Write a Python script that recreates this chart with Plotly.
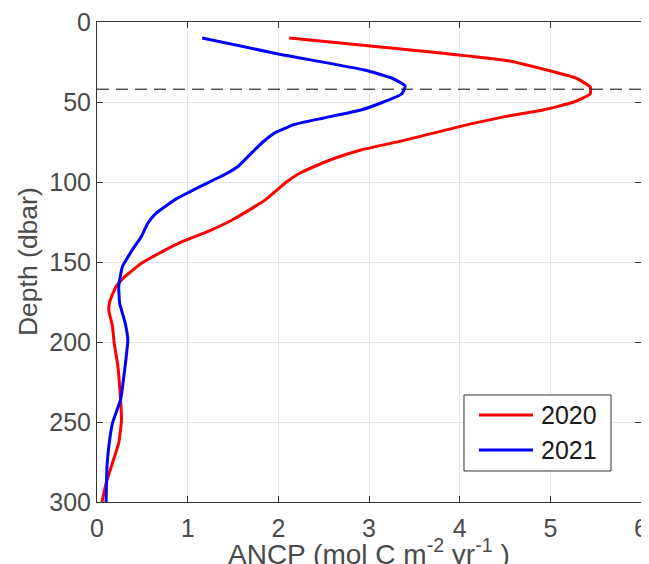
import plotly.graph_objects as go

depth_2020 = [10, 24, 30, 35, 40.6, 45, 50, 55, 59, 64, 74.6, 80, 85, 90, 95, 100, 111,
              115.4, 123.75, 131, 137, 143.5, 150.8, 159, 165.4, 173.75, 180, 190, 200.8,
              215, 236, 248.75, 263, 275.8, 288.3, 300]
ancp_2020 = [2.12, 4.51, 4.96, 5.28, 5.44, 5.44, 5.26, 4.92, 4.51, 4.10, 3.34, 2.91, 2.63,
             2.41, 2.22, 2.09, 1.86, 1.74, 1.49, 1.22, 0.95, 0.72, 0.49, 0.31, 0.21, 0.146,
             0.13, 0.17, 0.19, 0.23, 0.26, 0.27, 0.24, 0.17, 0.10, 0.055]

depth_2021 = [10, 20, 30, 35, 40, 45, 50, 55, 60, 64, 69, 75, 81, 90, 95, 103, 111,
              119.6, 125.8, 134, 141.5, 153, 165, 175.8, 188, 198.75, 215, 236, 250.8,
              265.4, 278, 300]
ancp_2021 = [1.16, 2.0, 2.95, 3.25, 3.40, 3.36, 3.16, 2.91, 2.50, 2.18, 1.97, 1.83, 1.72,
             1.56, 1.42, 1.13, 0.86, 0.65, 0.56, 0.49, 0.40, 0.28, 0.24, 0.25, 0.31, 0.34,
             0.31, 0.26, 0.17, 0.13, 0.11, 0.10]

mld_depth = 42

x_ticks = [0, 1, 2, 3, 4, 5, 6]
y_ticks = [0, 50, 100, 150, 200, 250, 300]

series_names = ["2020", "2021"]
series_colors = ["#ff0000", "#0000ff"]

fig = go.Figure()
fig.add_trace(go.Scatter(x=ancp_2020, y=depth_2020, mode="lines", name=series_names[0],
                         showlegend=False,
                         line=dict(color=series_colors[0], width=3, shape="spline", smoothing=0.4)))
fig.add_trace(go.Scatter(x=ancp_2021, y=depth_2021, mode="lines", name=series_names[1],
                         showlegend=False,
                         line=dict(color=series_colors[1], width=3, shape="spline", smoothing=0.4)))

fig.add_shape(type="line", xref="paper", x0=0, x1=1, yref="y", y0=mld_depth, y1=mld_depth,
              line=dict(color="black", width=1, dash="12px,7px"))

# custom legend (box, line samples, labels)
fig.add_shape(type="rect", xref="paper", yref="paper", x0=0.6746, x1=0.9449,
              y0=0.0646, y1=0.2229, line=dict(color="#333333", width=1), fillcolor="white",
              layer="above")
leg_y = [0.18125, 0.1083]
for name, col, yy in zip(series_names, series_colors, leg_y):
    fig.add_shape(type="line", xref="paper", yref="paper", x0=0.7022, x1=0.8015,
                  y0=yy, y1=yy, line=dict(color=col, width=3), layer="above")
    fig.add_annotation(xref="paper", yref="paper", x=0.8125, y=yy, text=name,
                       showarrow=False, xanchor="left", yanchor="middle",
                       font=dict(size=25, color="#1a1a1a"))

axis_common = dict(showgrid=True, gridcolor="#e6e6e6", gridwidth=1, showline=True,
                   linecolor="#333333", linewidth=1, mirror="ticks", ticks="inside",
                   ticklen=6, tickcolor="#333333", zeroline=False, automargin=False,
                   ticklabeloverflow="allow",
                   tickfont=dict(size=25, color="#4a4a4a"))

fig.add_annotation(xref="paper", yref="paper", x=0.5, y=-0.104,
                   text="ANCP (mol C m<sup>-2</sup> yr<sup>-1</sup> )", showarrow=False,
                   xanchor="center", yanchor="middle",
                   font=dict(size=28, color="#4a4a4a"))
fig.add_annotation(xref="paper", yref="paper", x=-0.1268, y=0.5, text="Depth (dbar)",
                   showarrow=False, textangle=-90, xanchor="center", yanchor="middle",
                   font=dict(size=26.5, color="#4a4a4a"))

fig.update_layout(
    width=649, height=564,
    margin=dict(l=89, r=16, t=14, b=70),
    plot_bgcolor="white", paper_bgcolor="white",
    font=dict(family="Liberation Sans, Arial, sans-serif", color="#4a4a4a"),
    xaxis=dict(range=[0, 6], tickvals=x_ticks, ticklabelstandoff=4, **axis_common),
    yaxis=dict(range=[300, 0], tickvals=y_ticks, **axis_common),
    showlegend=False,
)

fig.write_html("out.html")
